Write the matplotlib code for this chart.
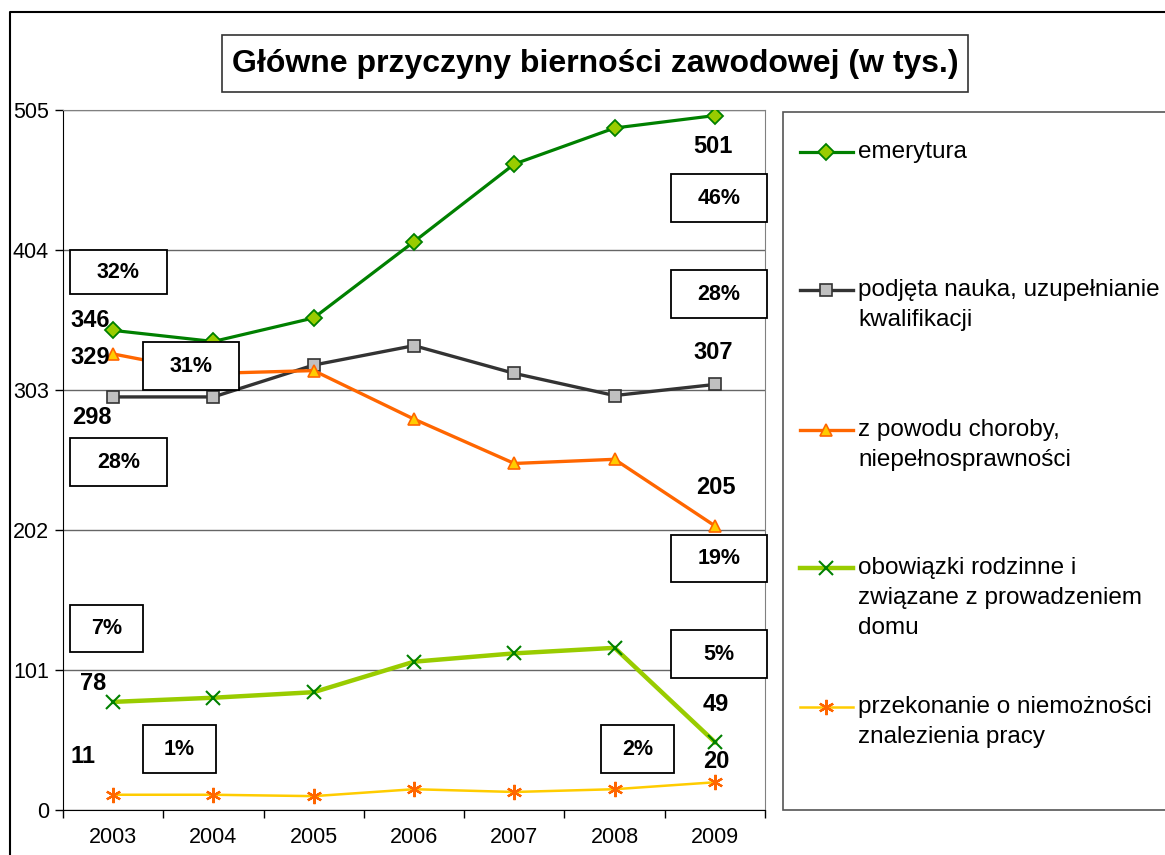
import matplotlib
matplotlib.use("Agg")
import matplotlib.pyplot as plt
from matplotlib.patches import Rectangle
from matplotlib.lines import Line2D

plt.rcParams["font.family"] = ["Liberation Sans", "DejaVu Sans"]

years = ["2003", "2004", "2005", "2006", "2007", "2008", "2009"]

emerytura = [346, 338, 355, 410, 466, 492, 501]
nauka = [298, 298, 321, 335, 315, 299, 307]
choroba = [329, 315, 317, 282, 250, 253, 205]
rodzina = [78, 81, 85, 107, 113, 117, 49]
praca = [11, 11, 10, 15, 13, 15, 20]

yticks = [0, 101, 202, 303, 404, 505]

labels = [
    "emerytura",
    "podjęta nauka, uzupełnianie\nkwalifikacji",
    "z powodu choroby,\nniepełnosprawności",
    "obowiązki rodzinne i\nzwiązane z prowadzeniem\ndomu",
    "przekonanie o niemożności\nznalezienia pracy",
]

# first / last values shown on the chart, with pixel offsets
value_labels = [
    (emerytura, 0, (-23, 10)), (emerytura, 6, (-2, -31)),
    (choroba, 0, (-23, -4)), (choroba, 6, (1, 38)),
    (nauka, 0, (-21, -21)), (nauka, 6, (-2, 32)),
    (rodzina, 0, (-20, 18)), (rodzina, 6, (1, 38)),
    (praca, 0, (-30, 38)), (praca, 6, (1, 21)),
]

# percentage boxes: text, x0, y0, x1, y1 (figure pixels)
pct_boxes = [
    ("32%", 70, 250, 167, 294),
    ("31%", 143, 342, 239, 390),
    ("28%", 70, 438, 167, 486),
    ("46%", 671, 174, 767, 222),
    ("28%", 671, 270, 767, 318),
    ("19%", 671, 535, 767, 582),
    ("7%", 70, 605, 143, 652),
    ("5%", 671, 630, 767, 678),
    ("1%", 143, 725, 216, 773),
    ("2%", 601, 725, 674, 773),
]

W, H = 1165, 855
fig = plt.figure(figsize=(W / 100, H / 100), dpi=100)

ax = fig.add_axes([63 / W, (H - 810) / H, 702 / W, 700 / H])
x = list(range(len(years)))

lines = [
    dict(color="#008000", lw=2.3),
    dict(color="#333333", lw=2.4),
    dict(color="#ff6600", lw=2.4),
    dict(color="#99cc00", lw=3.2),
    dict(color="#ffcc00", lw=1.8),
]
marks = [
    dict(marker="D", ms=8, mfc="#99cc00", mec="#008000", mew=1.3),
    dict(marker="s", ms=8, mfc="#c0c0c0", mec="#333333", mew=1.2),
    dict(marker="^", ms=9, mfc="#ffcc00", mec="#ff6600", mew=1.2),
    dict(marker="x", ms=10, mec="#008000", mew=1.5),
    dict(marker=(6, 2, 0), ms=11, mec="#ff6600", mew=1.6),
]
series = [emerytura, nauka, choroba, rodzina, praca]
for s, ln, mk in zip(series, lines, marks):
    ax.plot(x, s, zorder=3, **ln, **mk)

for s, i, off in value_labels:
    ax.annotate(str(s[i]), (x[i], s[i]), xytext=off, textcoords="offset pixels",
                ha="center", va="center", fontsize=17, fontweight="bold", zorder=5)

ax.set_xlim(-0.5, 6.5)
ax.set_ylim(0, 505)
ax.set_yticks(yticks)
ax.set_yticklabels([str(v) for v in yticks], fontsize=15.5)
ax.set_xticks([i - 0.5 for i in range(8)])
ax.set_xticklabels([])
ax.set_xticks(x, minor=True)
ax.set_xticklabels(years, minor=True, fontsize=15.5)
ax.tick_params(axis="x", which="minor", length=0, pad=12)
ax.tick_params(axis="x", which="major", length=6, width=1, direction="out")
ax.tick_params(axis="y", length=6, width=1, direction="out", pad=4)
ax.grid(axis="y", color="#666666", lw=1)
ax.set_axisbelow(True)
for side in ["top", "right"]:
    ax.spines[side].set_color("#808080")
for side in ["left", "bottom"]:
    ax.spines[side].set_color("black")

# overlay for frames, title, boxes and legend (pixel coordinates)
ov = fig.add_axes([0, 0, 1, 1], zorder=10)
ov.set_xlim(0, W)
ov.set_ylim(H, 0)
ov.axis("off")
ov.patch.set_alpha(0)

ov.plot([10, 10, W], [H, 12, 12], color="black", lw=1.5)

ov.add_patch(Rectangle((222, 35), 746, 57, fill=True, fc="white", ec="#333333", lw=1.2))
ov.text(595, 64, "Główne przyczyny bierności zawodowej (w tys.)", ha="center", va="center",
        fontsize=23, fontweight="bold")

for t, x0, y0, x1, y1 in pct_boxes:
    ov.add_patch(Rectangle((x0, y0), x1 - x0, y1 - y0, fc="white", ec="black", lw=1.3))
    ov.text((x0 + x1) / 2, (y0 + y1) / 2, t, ha="center", va="center",
            fontsize=15.5, fontweight="bold")

ov.add_patch(Rectangle((783, 112), 400, 698, fc="white", ec="#555555", lw=1.2))
leg_y = [152, 290, 430, 568, 707]
for lab, ly, ln, mk in zip(labels, leg_y, lines, marks):
    ov.add_line(Line2D([800, 853], [ly, ly], **ln))
    ov.add_line(Line2D([826], [ly], ls="none", **mk))
    for j, part in enumerate(lab.split("\n")):
        ov.text(858, ly + 30 * j, part, ha="left", va="center", fontsize=17.5)

fig.savefig("out.png", dpi=100)
